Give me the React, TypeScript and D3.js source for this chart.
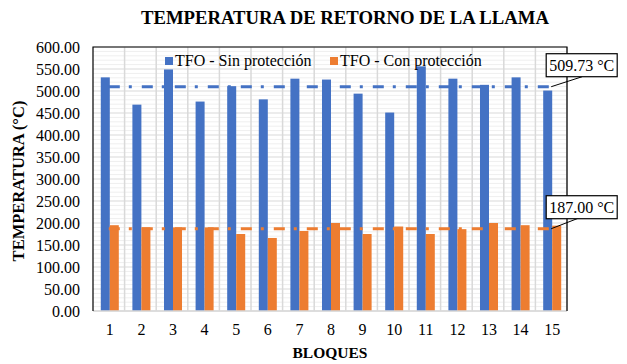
import * as d3 from "d3";

const categories = ["1", "2", "3", "4", "5", "6", "7", "8", "9", "10", "11", "12", "13", "14", "15"];
const sinProteccion = [531, 469, 549, 476, 511, 481, 528, 526, 494, 451, 556, 528, 514, 531, 501];
const conProteccion = [195, 190, 190, 190, 175, 166, 182, 200, 175, 192, 175, 186, 200, 195, 194];
const yTicks = [0, 50, 100, 150, 200, 250, 300, 350, 400, 450, 500, 550, 600];
const seriesNames = ["TFO - Sin protección", "TFO - Con protección"];

const W = 627;
const H = 364;
const margin = { top: 47, right: 60, bottom: 53, left: 93 };
const FONT = "'Liberation Serif', 'Times New Roman', serif";
const BLUE = "#4472c4";
const ORANGE = "#ed7d31";

export default function App() {
  const plotW = W - margin.left - margin.right;
  const plotH = H - margin.top - margin.bottom;

  const x = d3.scaleBand<string>().domain(categories).range([0, plotW]).paddingInner(0).paddingOuter(0);
  const groupW = x.bandwidth() * 0.57;
  const sub = d3.scaleBand<number>().domain([0, 1]).range([0, groupW]);
  const y = d3.scaleLinear().domain([0, 600]).range([plotH, 0]);

  const minorTicks = d3.range(0, 601, 10).filter((v) => v % 50 !== 0);

  const avgSin = d3.mean(sinProteccion)!;
  const avgCon = d3.mean(conProteccion)!;
  const fmt = d3.format(".2f");

  const xStart = x(categories[0])! + x.bandwidth() / 2;
  const xEnd = x(categories[categories.length - 1])! + x.bandwidth() / 2;

  const avgLine = d3.line<[number, number]>();

  const series = [
    { values: sinProteccion, color: BLUE, avg: avgSin },
    { values: conProteccion, color: ORANGE, avg: avgCon },
  ];

  // callout boxes sit up and to the right of each line end
  const callouts = [
    { avg: avgSin, boxY: y(avgSin) - 33, leadDy: -10 },
    { avg: avgCon, boxY: y(avgCon) - 33, leadDy: -12 },
  ];

  return (
    <div style={{ position: "fixed", left: 0, top: 0 }}>
      <svg width={W} height={H} style={{ display: "block", background: "#fff", fontFamily: FONT }}>
        <text x={345} y={24} textAnchor="middle" fontWeight="bold" fontSize={18.7}>
          TEMPERATURA DE RETORNO DE LA LLAMA
        </text>

        <g transform={`translate(${margin.left},${margin.top})`}>
          {/* minor gridlines */}
          {minorTicks.map((v) => (
            <line key={"m" + v} x1={0} x2={plotW} y1={y(v)} y2={y(v)} stroke="#efefef" strokeWidth={1} />
          ))}
          {/* major gridlines */}
          {yTicks.map((v) => (
            <line key={"g" + v} x1={0} x2={plotW} y1={y(v)} y2={y(v)} stroke="#d9d9d9" strokeWidth={1} />
          ))}
          {/* vertical gridlines at category boundaries */}
          {categories.map((c) => (
            <line key={"v" + c} x1={x(c)! + x.bandwidth()} x2={x(c)! + x.bandwidth()} y1={0} y2={plotH} stroke="#d9d9d9" strokeWidth={1.5} />
          ))}

          {/* bars */}
          {series.map((s, si) =>
            s.values.map((v, i) => {
              const gx = x(categories[i])! + x.bandwidth() / 2 - groupW / 2 + 1;
              return (
                <rect
                  key={si + "-" + i}
                  x={gx + sub(si)!}
                  y={y(v)}
                  width={sub.bandwidth()}
                  height={plotH - y(v)}
                  fill={s.color}
                />
              );
            })
          )}

          {/* average lines */}
          {series.map((s, si) => (
            <path
              key={"avg" + si}
              d={avgLine([
                [xStart, y(s.avg)],
                [xEnd, y(s.avg)],
              ])!}
              stroke={s.color}
              strokeWidth={3}
              strokeDasharray="11 9 3 10"
              fill="none"
            />
          ))}

          {/* frame */}
          <line x1={0} x2={plotW} y1={plotH} y2={plotH} stroke="#d9d9d9" strokeWidth={1.5} />
          <path d={`M0,${plotH}V0H${plotW}V${plotH}`} fill="none" stroke="#000" strokeWidth={1.2} />

          {yTicks.map((v) => (
            <text key={"yt" + v} x={-13} y={y(v)} dy="0.35em" textAnchor="end" fontSize={16} fontFamily={FONT}>
              {fmt(v)}
            </text>
          ))}
          {categories.map((c) => (
            <text key={"xt" + c} x={x(c)! + x.bandwidth() / 2 + 1} y={plotH + 24} textAnchor="middle" fontSize={16} fontFamily={FONT}>
              {c}
            </text>
          ))}

          {/* legend */}
          <rect x={72} y={10} width={8} height={8} fill={BLUE} />
          <text x={82} y={18.5} fontSize={16} fontFamily={FONT}>{seriesNames[0]}</text>
          <rect x={237} y={10} width={8} height={8} fill={ORANGE} />
          <text x={247} y={18.5} fontSize={16} fontFamily={FONT}>{seriesNames[1]}</text>

          {/* callouts */}
          {callouts.map((c, i) => (
            <g key={"c" + i}>
              <line x1={xEnd} y1={y(c.avg)} x2={xEnd + 31} y2={y(c.avg) + c.leadDy} stroke="#000" strokeWidth={1} />
              <rect x={xEnd - 5} y={c.boxY} width={71} height={23} fill="#fff" stroke="#000" strokeWidth={1.2} />
              <text x={xEnd + 30.5} y={c.boxY + 17} textAnchor="middle" fontSize={16} fontFamily={FONT}>
                {fmt(c.avg)} °C
              </text>
            </g>
          ))}
        </g>

        <text
          transform={`translate(24,${margin.top + plotH / 2 + 2}) rotate(-90)`}
          textAnchor="middle"
          fontWeight="bold"
          fontSize={16.5}
          fontFamily={FONT}
        >
          TEMPERATURA (°C)
        </text>
        <text x={330} y={358} textAnchor="middle" fontWeight="bold" fontSize={15.5} fontFamily={FONT}>
          BLOQUES
        </text>
      </svg>
    </div>
  );
}
